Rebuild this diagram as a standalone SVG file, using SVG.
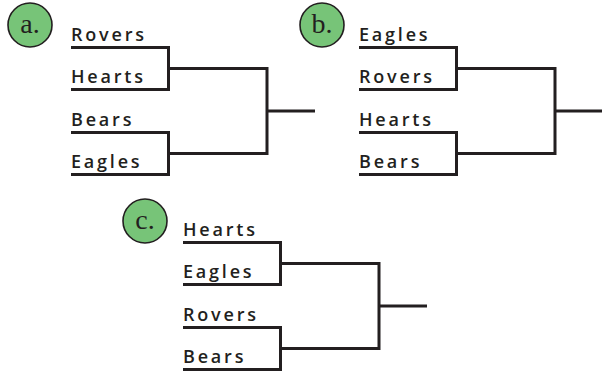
<svg xmlns="http://www.w3.org/2000/svg" width="602" height="372" viewBox="0 0 602 372">
<style>
.bg{fill:#ffffff}
.badge circle{fill:#77c478;stroke:#231f20;stroke-width:1.6}
.badge text{font-family:"Liberation Serif","Times New Roman",serif;font-size:28px;fill:#231f20;text-anchor:middle}
.team{font-family:"Open Sans","DejaVu Sans",sans-serif;font-weight:600;font-size:18px;letter-spacing:2.8px;fill:#231f20}
.conn path{fill:none;stroke:#231f20;stroke-width:3;stroke-linejoin:miter;stroke-linecap:butt}
</style>
<rect class="bg" x="0" y="0" width="602" height="372"/>
<g id="connectors" class="conn">
<g transform="translate(0,0)"><path d="M71 47.5 H168.5 V89.5 H71 M71 132.5 H168.5 V174.5 H71 M168.5 68.5 H267 V153.5 H168.5 M267 111 H315"/></g>
<g transform="translate(288,0)"><path d="M71 47.5 H168.5 V89.5 H71 M71 132.5 H168.5 V174.5 H71 M168.5 68.5 H267 V153.5 H168.5 M267 111 H315"/></g>
<g transform="translate(112,195)"><path d="M71 47.5 H168.5 V89.5 H71 M71 132.5 H168.5 V174.5 H71 M168.5 68.5 H267 V153.5 H168.5 M267 111 H315"/></g>
</g>
<g id="badge-a" class="badge"><circle cx="30" cy="25" r="22"/><text x="30" y="33">a.</text></g>
<g id="badge-b" class="badge"><circle cx="322" cy="25" r="22"/><text x="322" y="33">b.</text></g>
<g id="badge-c" class="badge"><circle cx="145" cy="221" r="22"/><text x="145" y="229">c.</text></g>
<g id="a-rovers"><text class="team" x="71" y="41">Rovers</text></g>
<g id="a-hearts"><text class="team" x="71" y="83">Hearts</text></g>
<g id="a-bears"><text class="team" x="71" y="126">Bears</text></g>
<g id="a-eagles"><text class="team" x="71" y="168">Eagles</text></g>
<g id="b-eagles"><text class="team" x="359" y="41">Eagles</text></g>
<g id="b-rovers"><text class="team" x="359" y="83">Rovers</text></g>
<g id="b-hearts"><text class="team" x="359" y="126">Hearts</text></g>
<g id="b-bears"><text class="team" x="359" y="168">Bears</text></g>
<g id="c-hearts"><text class="team" x="183" y="236">Hearts</text></g>
<g id="c-eagles"><text class="team" x="183" y="278">Eagles</text></g>
<g id="c-rovers"><text class="team" x="183" y="321">Rovers</text></g>
<g id="c-bears"><text class="team" x="183" y="363">Bears</text></g>
</svg>
